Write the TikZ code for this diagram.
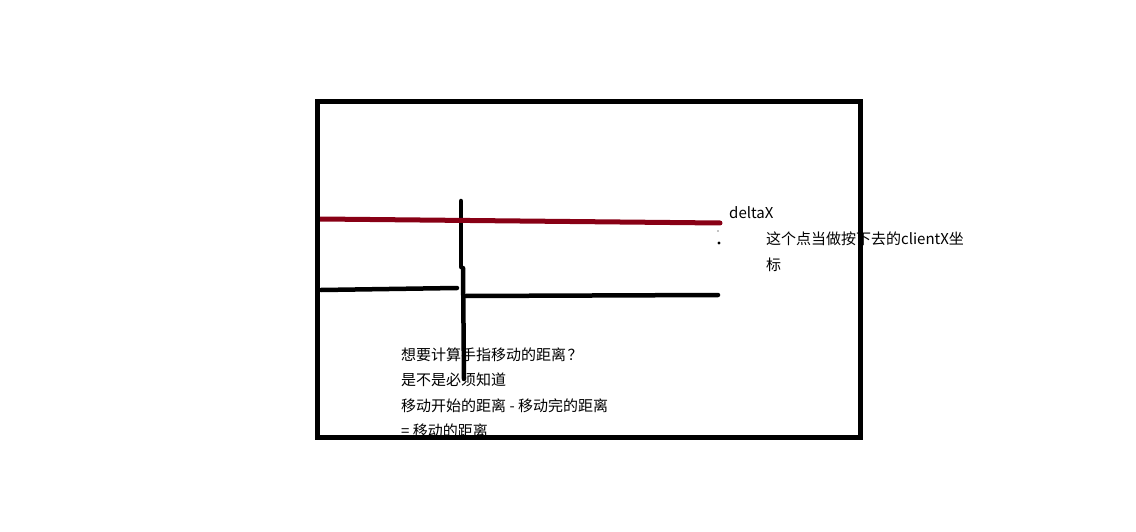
\documentclass[tikz,border=0pt]{standalone}
\usepackage{fontspec}
\setmainfont{Noto Sans CJK SC}
\definecolor{paintred}{HTML}{880015}
\begin{document}
\begin{tikzpicture}[x=1pt,y=-1pt,
  txt/.style={anchor=west,inner sep=0pt,font=\fontsize{15}{17}\selectfont},
  stroke/.style={line width=4.5pt,line cap=round},
  redstroke/.style={line width=5pt,line cap=round,draw=paintred}]
\useasboundingbox (0,0) rectangle (1136,532);
% texts
\node[txt] (dx) at (729,213) {deltaX};
\node[txt] (c1) at (766,239) {这个点当做按下去的clientX坐};
\node[txt] (c2) at (766,265) {标};
\node[txt] (t1) at (401,355) {想要计算手指移动的距离\hspace{0.1em}？};
\node[txt] (t2) at (401,380) {是不是必须知道};
\node[txt] (t3) at (401,406) {移动开始的距离 - 移动完的距离};
\node[txt] (t4) at (401,431) {= 移动的距离};
% coordinates
\coordinate (r1) at (320,219);
\coordinate (r2) at (720,223);
\coordinate (v1) at (461,201);
\coordinate (v2) at (461,267);
\coordinate (v3) at (463,268);
\coordinate (v4) at (464,379);
\coordinate (l1) at (321,290);
\coordinate (l2) at (457,288);
\coordinate (m1) at (466,296);
\coordinate (m2) at (718,295);
% lines
\draw[stroke] (v1) -- (v2);
\draw[stroke] (v3) -- (v4);
\draw[redstroke] (r1) -- (r2);
\draw[stroke] (l1) -- (l2);
\draw[stroke] (m1) -- (m2);
\fill (719,243) circle (1.6);
\fill (718,231) circle (0.6);
% frame
\draw[line width=5pt] (317.5,102) rectangle (860,437.5);
\end{tikzpicture}
\end{document}
